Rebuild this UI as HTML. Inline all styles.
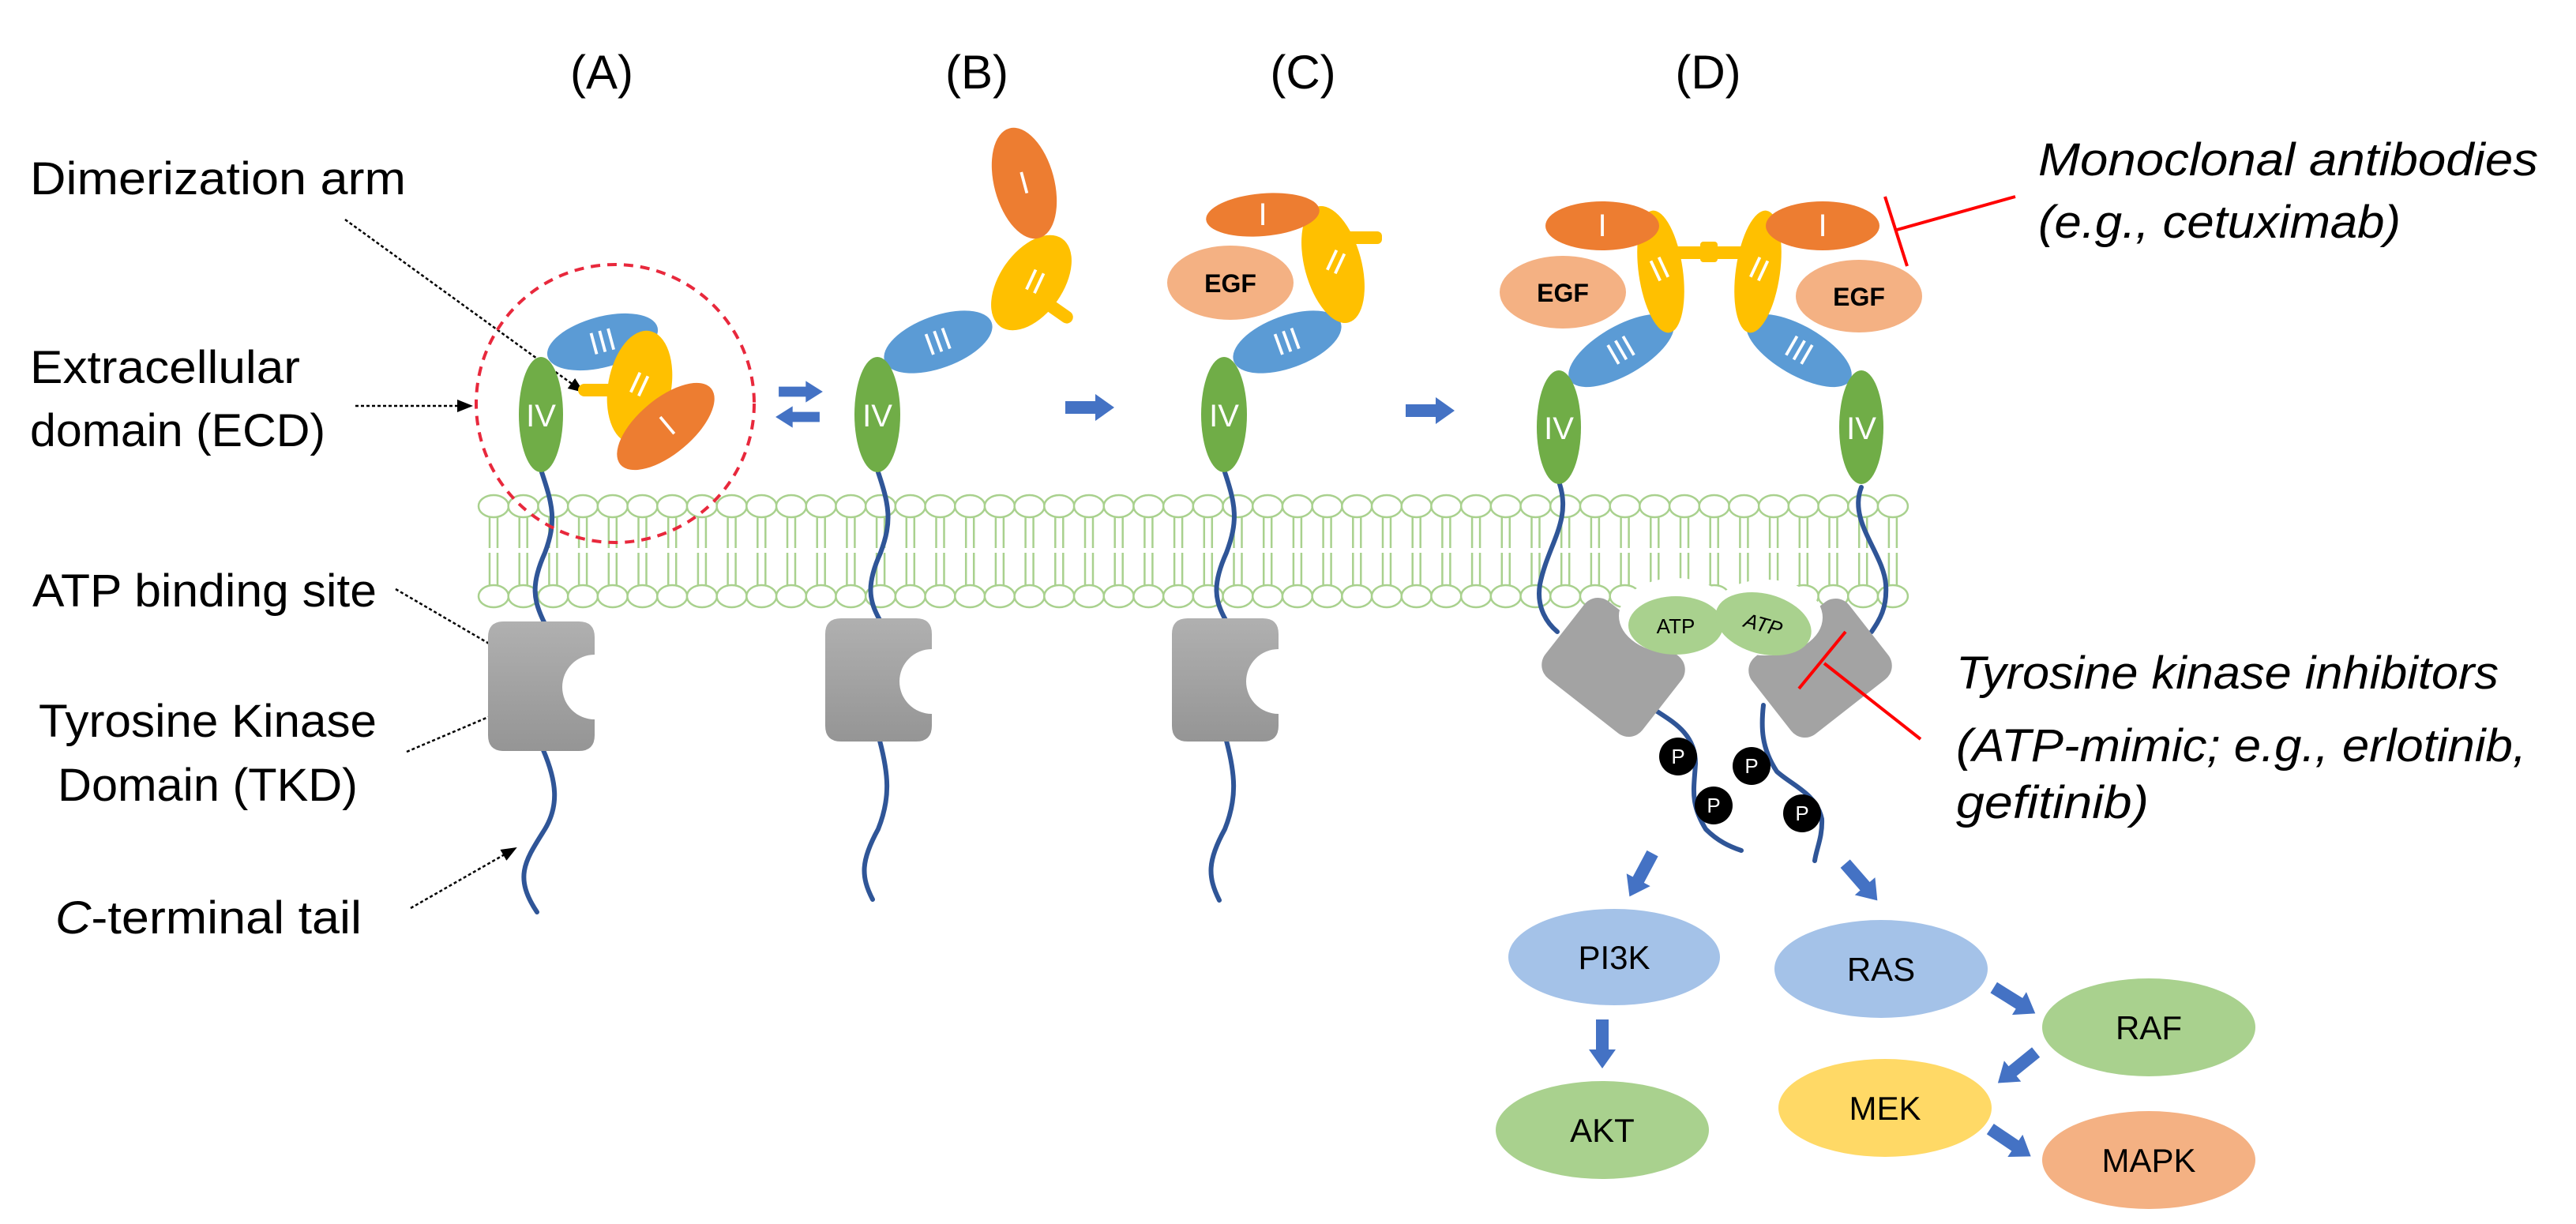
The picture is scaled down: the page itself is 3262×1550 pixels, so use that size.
<!DOCTYPE html>
<html><head><meta charset="utf-8"><style>
html,body{margin:0;padding:0;background:#fff;}
svg{display:block;}
text{font-family:"Liberation Sans",sans-serif;}
</style></head><body>
<svg width="3262" height="1550" viewBox="0 0 3262 1550" xmlns="http://www.w3.org/2000/svg">
<defs>
<linearGradient id="gr" x1="0" y1="0" x2="0" y2="1"><stop offset="0" stop-color="#b0b0b0"/><stop offset="1" stop-color="#959595"/></linearGradient>
<polygon id="arr" points="-31,-8 7,-8 7,-17 31,0 7,17 7,8 -31,8" fill="#4472C4"/>
<marker id="ah2" markerWidth="20" markerHeight="20" refX="18" refY="10" orient="auto" markerUnits="userSpaceOnUse" viewBox="0 0 20 20"><path d="M0,2 L20,10 L0,18z" fill="#000"/></marker>
</defs>

<g font-size="60" fill="#000" text-anchor="middle">
<text x="762" y="112">(A)</text>
<text x="1237" y="112">(B)</text>
<text x="1650" y="112">(C)</text>
<text x="2163" y="112">(D)</text>
</g>

<g font-size="58" fill="#000" lengthAdjust="spacingAndGlyphs">
<text x="38" y="246" textLength="476" lengthAdjust="spacingAndGlyphs">Dimerization arm</text>
<text x="38" y="485" textLength="342" lengthAdjust="spacingAndGlyphs">Extracellular</text>
<text x="38" y="565" textLength="374" lengthAdjust="spacingAndGlyphs">domain (ECD)</text>
<text x="41" y="768" textLength="436" lengthAdjust="spacingAndGlyphs">ATP binding site</text>
<text x="49" y="933" textLength="428" lengthAdjust="spacingAndGlyphs">Tyrosine Kinase</text>
<text x="73" y="1014" textLength="380" lengthAdjust="spacingAndGlyphs">Domain (TKD)</text>
<text x="70" y="1182" textLength="388" lengthAdjust="spacingAndGlyphs"><tspan font-style="italic">C</tspan>-terminal tail</text>
</g>
<g stroke="#000" stroke-width="2.5" stroke-dasharray="4,3" fill="none">
<line x1="437" y1="278" x2="738" y2="496" marker-end="url(#ah2)"/>
<line x1="450" y1="514" x2="597" y2="514" marker-end="url(#ah2)"/>
<line x1="501" y1="746" x2="705" y2="865" marker-end="url(#ah2)"/>
<line x1="515" y1="952" x2="656" y2="892" marker-end="url(#ah2)"/>
<line x1="520" y1="1150" x2="653" y2="1074" marker-end="url(#ah2)"/>
</g>

<g stroke="#A9D18E" stroke-width="2.5" fill="#fff">
<g id="lip">
<line x1="620" y1="652" x2="620" y2="694"/><line x1="630" y1="652" x2="630" y2="694"/>
<line x1="620" y1="700" x2="620" y2="742"/><line x1="630" y1="700" x2="630" y2="742"/>
<ellipse cx="625" cy="641" rx="19" ry="14"/><ellipse cx="625" cy="755" rx="19" ry="14"/>
</g>
<use href="#lip" x="37.7"/><use href="#lip" x="75.4"/><use href="#lip" x="113.1"/><use href="#lip" x="150.8"/><use href="#lip" x="188.5"/><use href="#lip" x="226.2"/><use href="#lip" x="263.9"/><use href="#lip" x="301.6"/><use href="#lip" x="339.3"/><use href="#lip" x="377"/><use href="#lip" x="414.7"/><use href="#lip" x="452.4"/><use href="#lip" x="490.1"/><use href="#lip" x="527.8"/><use href="#lip" x="565.5"/><use href="#lip" x="603.2"/><use href="#lip" x="640.9"/><use href="#lip" x="678.6"/><use href="#lip" x="716.3"/><use href="#lip" x="754"/><use href="#lip" x="791.7"/><use href="#lip" x="829.4"/><use href="#lip" x="867.1"/><use href="#lip" x="904.8"/><use href="#lip" x="942.5"/><use href="#lip" x="980.2"/><use href="#lip" x="1017.9"/><use href="#lip" x="1055.6"/><use href="#lip" x="1093.3"/><use href="#lip" x="1131"/><use href="#lip" x="1168.7"/><use href="#lip" x="1206.4"/><use href="#lip" x="1244.1"/><use href="#lip" x="1281.8"/><use href="#lip" x="1319.5"/><use href="#lip" x="1357.2"/><use href="#lip" x="1394.9"/><use href="#lip" x="1432.6"/><use href="#lip" x="1470.3"/><use href="#lip" x="1508"/><use href="#lip" x="1545.7"/><use href="#lip" x="1583.4"/><use href="#lip" x="1621.1"/><use href="#lip" x="1658.8"/><use href="#lip" x="1696.5"/><use href="#lip" x="1734.2"/><use href="#lip" x="1771.9"/>
</g>

<g stroke="#2F5597" stroke-width="6" fill="none" stroke-linecap="round">
<path d="M686,598 C700,640 705,660 690,700 C672,740 675,760 690,790"/>
<path d="M688,950 C705,990 708,1020 690,1050 C665,1090 650,1110 680,1155"/>
<path d="M1112,598 C1126,640 1130,660 1115,700 C1097,740 1100,760 1114,785"/>
<path d="M1114,938 C1125,980 1128,1010 1112,1050 C1090,1090 1090,1110 1105,1139"/>
<path d="M1551,598 C1565,640 1568,660 1553,700 C1535,740 1538,760 1552,785"/>
<path d="M1553,938 C1564,980 1567,1010 1551,1050 C1529,1090 1529,1110 1544,1140"/>
<path d="M1975,613 C1990,660 1960,690 1950,740 C1945,770 1960,790 1972,800"/>
<path d="M2357,617 C2340,660 2385,700 2388,740 C2390,770 2380,785 2370,800"/>
<path d="M2097,900 C2120,915 2147,930 2147,967 C2145,1000 2140,1017 2160,1050 C2175,1065 2190,1072 2205,1077"/>
<path d="M2233,893 C2230,920 2230,947 2250,977 C2270,995 2300,1005 2307,1037 C2308,1060 2300,1075 2298,1090"/>
</g>

<g fill="url(#gr)">
<path d="M638,787 H733 Q753,787 753,807 V829 A41,41 0 0 0 753,911 V931 Q753,951 733,951 H638 Q618,951 618,931 V807 Q618,787 638,787z"/>
<path d="M1065,783 H1160 Q1180,783 1180,803 V822 A41,41 0 0 0 1180,904 V919 Q1180,939 1160,939 H1065 Q1045,939 1045,919 V803 Q1045,783 1065,783z"/>
<path d="M1504,783 H1599 Q1619,783 1619,803 V822 A41,41 0 0 0 1619,904 V919 Q1619,939 1599,939 H1504 Q1484,939 1484,919 V803 Q1484,783 1504,783z"/>
</g>
<rect x="-78" y="-62" width="156" height="124" rx="22" fill="#a3a3a3" transform="translate(2043,845) rotate(38)"/>
<rect x="-78" y="-62" width="156" height="124" rx="22" fill="#a3a3a3" transform="translate(2305,846) rotate(-38)"/>
<ellipse cx="2122" cy="780" rx="72" ry="48" fill="#fff"/>
<ellipse cx="2236" cy="782" rx="72" ry="48" fill="#fff"/>
<ellipse cx="2122" cy="792" rx="60" ry="37" fill="#A9D18E"/>
<ellipse cx="2233" cy="790" rx="62" ry="38" fill="#A9D18E" transform="rotate(15 2233 790)"/>
<text x="2122" y="802" font-size="26" text-anchor="middle" fill="#000">ATP</text>
<text x="2233" y="800" font-size="26" text-anchor="middle" fill="#000" font-style="italic" transform="rotate(15 2233 790)">ATP</text>

<g fill="#000"><circle cx="2125" cy="958" r="24"/><circle cx="2218" cy="970" r="24"/><circle cx="2170" cy="1020" r="24"/><circle cx="2282" cy="1030" r="24"/></g>
<g fill="#fff" font-size="26" text-anchor="middle"><text x="2125" y="967">P</text><text x="2218" y="979">P</text><text x="2170" y="1029">P</text><text x="2282" y="1039">P</text></g>

<circle cx="779" cy="511" r="176" fill="none" stroke="#E8283C" stroke-width="4" stroke-dasharray="12,9"/>
<ellipse cx="763" cy="433" rx="72" ry="32" fill="#5B9BD5" transform="rotate(-15 763 433)"/>
<rect x="732" y="486" width="60" height="16" rx="8" fill="#FFC000"/>
<ellipse cx="810" cy="490" rx="40" ry="72" fill="#FFC000" transform="rotate(10 810 490)"/>
<ellipse cx="843" cy="540" rx="75" ry="35" fill="#ED7D31" transform="rotate(-40 843 540)"/>
<ellipse cx="685" cy="525" rx="28" ry="73" fill="#70AD47"/>

<ellipse cx="1188" cy="433" rx="72" ry="33" fill="#5B9BD5" transform="rotate(-20 1188 433)"/>
<rect x="1300" y="358" width="70" height="16" rx="8" fill="#FFC000" transform="rotate(35 1300 366)"/>
<ellipse cx="1306" cy="358" rx="40" ry="68" fill="#FFC000" transform="rotate(35 1306 358)"/>
<ellipse cx="1297" cy="232" rx="38" ry="72" fill="#ED7D31" transform="rotate(-15 1297 232)"/>
<ellipse cx="1111" cy="525" rx="29" ry="73" fill="#70AD47"/>

<ellipse cx="1558" cy="358" rx="80" ry="47" fill="#F4B183"/>
<text x="1558" y="370" font-size="32" font-weight="bold" text-anchor="middle">EGF</text>
<ellipse cx="1630" cy="433" rx="72" ry="33" fill="#5B9BD5" transform="rotate(-20 1630 433)"/>
<rect x="1690" y="293" width="60" height="16" rx="6" fill="#FFC000"/>
<ellipse cx="1688" cy="335" rx="36" ry="76" fill="#FFC000" transform="rotate(-15 1688 335)"/>
<ellipse cx="1599" cy="272" rx="72" ry="27" fill="#ED7D31" transform="rotate(-5 1599 272)"/>
<ellipse cx="1550" cy="525" rx="29" ry="73" fill="#70AD47"/>

<ellipse cx="1979" cy="370" rx="80" ry="46" fill="#F4B183"/>
<text x="1979" y="382" font-size="32" font-weight="bold" text-anchor="middle">EGF</text>
<ellipse cx="2354" cy="375" rx="80" ry="46" fill="#F4B183"/>
<text x="2354" y="387" font-size="32" font-weight="bold" text-anchor="middle">EGF</text>
<ellipse cx="2053" cy="444" rx="75" ry="31" fill="#5B9BD5" transform="rotate(-30 2053 444)"/>
<ellipse cx="2278" cy="444" rx="75" ry="31" fill="#5B9BD5" transform="rotate(30 2278 444)"/>
<rect x="2115" y="312" width="100" height="16" fill="#FFC000"/>
<rect x="2153" y="306" width="22" height="26" rx="4" fill="#FFC000"/>
<ellipse cx="2103" cy="344" rx="28" ry="78" fill="#FFC000" transform="rotate(-8 2103 344)"/>
<ellipse cx="2226" cy="344" rx="28" ry="78" fill="#FFC000" transform="rotate(8 2226 344)"/>
<ellipse cx="2029" cy="286" rx="72" ry="31" fill="#ED7D31"/>
<ellipse cx="2308" cy="286" rx="72" ry="31" fill="#ED7D31"/>
<ellipse cx="1974" cy="541" rx="28" ry="72" fill="#70AD47"/>
<ellipse cx="2357" cy="541" rx="28" ry="72" fill="#70AD47"/>

<g fill="#fff" font-size="40" text-anchor="middle">
<text x="685" y="540">IV</text><text x="1111" y="540">IV</text><text x="1550" y="540">IV</text><text x="1974" y="556">IV</text><text x="2357" y="556">IV</text>
<text x="763" y="446" transform="rotate(-15 763 433)">III</text>
<text x="1188" y="446" transform="rotate(-20 1188 433)">III</text>
<text x="1630" y="446" transform="rotate(-20 1630 433)">III</text>
<text x="2053" y="457" transform="rotate(-30 2053 444)">III</text>
<text x="2278" y="457" transform="rotate(30 2278 444)">III</text>
<text x="808" y="500" transform="rotate(25 808 490)">II</text>
<text x="1310" y="370" transform="rotate(25 1310 358)">II</text>
<text x="1690" y="345" transform="rotate(25 1690 335)">II</text>
<text x="2103" y="354" transform="rotate(-25 2103 344)">II</text>
<text x="2226" y="354" transform="rotate(25 2226 344)">II</text>
<text x="846" y="552" transform="rotate(-40 846 540)">I</text>
<text x="1297" y="245" transform="rotate(-15 1297 232)">I</text>
<text x="1599" y="285">I</text>
<text x="2029" y="299">I</text>
<text x="2308" y="299">I</text>
</g>

<use href="#arr" transform="translate(1380,516)"/>
<use href="#arr" transform="translate(1811,520)"/>
<use href="#arr" transform="translate(1014,496) scale(0.9,0.8)"/>
<use href="#arr" transform="translate(1010,528) rotate(180) scale(0.9,0.8)"/>

<use href="#arr" transform="translate(2078,1108) rotate(118)"/>
<use href="#arr" transform="translate(2357,1117) rotate(49)"/>
<use href="#arr" transform="translate(2029,1322) rotate(90)"/>
<use href="#arr" transform="translate(2551,1267) rotate(32)"/>
<use href="#arr" transform="translate(2554,1352) rotate(141)"/>
<use href="#arr" transform="translate(2546,1447) rotate(34)"/>

<ellipse cx="2044" cy="1212" rx="134" ry="61" fill="#A4C2E8"/>
<ellipse cx="2382" cy="1227" rx="135" ry="62" fill="#A4C2E8"/>
<ellipse cx="2721" cy="1301" rx="135" ry="62" fill="#A9D18E"/>
<ellipse cx="2387" cy="1403" rx="135" ry="62" fill="#FFD966"/>
<ellipse cx="2029" cy="1431" rx="135" ry="62" fill="#A9D18E"/>
<ellipse cx="2721" cy="1469" rx="135" ry="62" fill="#F4B183"/>
<g font-size="42" text-anchor="middle" fill="#000">
<text x="2044" y="1227">PI3K</text>
<text x="2382" y="1242">RAS</text>
<text x="2721" y="1316">RAF</text>
<text x="2387" y="1418">MEK</text>
<text x="2029" y="1446">AKT</text>
<text x="2721" y="1484">MAPK</text>
</g>

<g stroke="#FF0000" stroke-width="4">
<line x1="2552" y1="249" x2="2402" y2="291"/>
<line x1="2387" y1="249" x2="2415" y2="337"/>
<line x1="2432" y1="936" x2="2310" y2="840"/>
<line x1="2337" y1="800" x2="2278" y2="872"/>
</g>
<g font-size="58" font-style="italic" fill="#000">
<text x="2581" y="222" textLength="633" lengthAdjust="spacingAndGlyphs">Monoclonal antibodies</text>
<text x="2581" y="301" textLength="459" lengthAdjust="spacingAndGlyphs">(e.g., cetuximab)</text>
<text x="2477" y="872" textLength="687" lengthAdjust="spacingAndGlyphs">Tyrosine kinase inhibitors</text>
<text x="2477" y="964" textLength="722" lengthAdjust="spacingAndGlyphs">(ATP-mimic; e.g., erlotinib,</text>
<text x="2477" y="1036" textLength="244" lengthAdjust="spacingAndGlyphs">gefitinib)</text>
</g>
</svg>
</body></html>
